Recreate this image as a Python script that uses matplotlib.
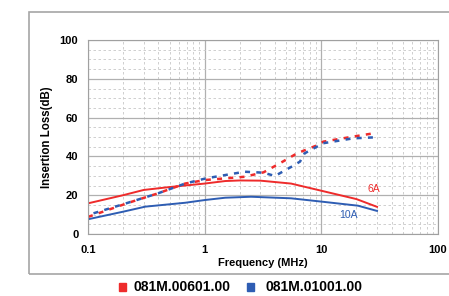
import matplotlib
matplotlib.use("Agg")
import matplotlib.pyplot as plt
from matplotlib.patches import Rectangle
from matplotlib.ticker import LogLocator, MultipleLocator, FixedLocator

plt.rcParams["font.family"] = ["Liberation Sans", "DejaVu Sans"]

RED = "#ee2b2b"
BLUE = "#2e5db3"

# 6A part, solid = one mode, dashed = other
f_6a = [0.1, 0.2, 0.3, 0.5, 1.0, 1.5, 2.0, 3.0, 5.5, 10, 20, 30]
il_6a = [15.8, 20.0, 22.7, 24.2, 26.0, 27.3, 27.6, 27.5, 26.0, 22.3, 18.0, 14.0]
f_6a_d = [0.1, 0.22, 0.4, 0.68, 1.0, 2.2, 3.2, 4.4, 6.2, 9.1, 10.4, 18.7, 28]
il_6a_d = [8.8, 16.0, 21.0, 26.0, 27.8, 29.5, 31.8, 36.4, 41.6, 45.6, 47.6, 50.2, 51.9]

# 10A part
f_10a = [0.1, 0.2, 0.31, 0.68, 1.0, 1.5, 2.5, 5.5, 10, 20.6, 30]
il_10a = [7.6, 11.5, 14.1, 16.1, 17.5, 18.7, 19.2, 18.4, 16.7, 14.6, 11.9]
f_10a_d = [0.1, 0.22, 0.4, 0.68, 1.03, 2.2, 3.2, 4.0, 5.56, 6.56, 7.2, 10.4, 18.7, 28]
il_10a_d = [9.8, 16.1, 21.0, 26.0, 28.7, 32.1, 31.6, 29.9, 34.7, 37.3, 41.6, 46.8, 49.3, 49.8]

fig = plt.figure(figsize=(4.49, 2.96), dpi=100)
fig.patches.append(Rectangle((29 / 449, 22 / 296), 1.0, 262 / 296, transform=fig.transFigure,
                             fill=False, edgecolor="#a6a6a6", linewidth=1.2, clip_on=False))
ax = fig.add_axes([88 / 449, 62 / 296, 350 / 449, 194 / 296])

ax.plot(f_6a, il_6a, color=RED, lw=1.4)
ax.plot(f_6a_d, il_6a_d, color=RED, lw=1.8, ls=(0, (2, 2.5)))
ax.plot(f_10a, il_10a, color=BLUE, lw=1.4)
ax.plot(f_10a_d, il_10a_d, color=BLUE, lw=1.8, ls=(2.2, (2, 2.5)))

ax.set_xscale("log")
ax.set_xlim(0.1, 100)
ax.set_ylim(0, 100)
ax.xaxis.set_major_locator(FixedLocator([0.1, 1, 10, 100]))
ax.set_xticklabels(["0.1", "1", "10", "100"])
ax.yaxis.set_major_locator(MultipleLocator(20))
ax.minorticks_on()
ax.yaxis.set_minor_locator(MultipleLocator(5))
ax.xaxis.set_minor_locator(LogLocator(base=10, subs=range(2, 10)))
ax.xaxis.set_minor_formatter(plt.NullFormatter())

ax.grid(which="major", color="#b0b0b0", lw=0.9, ls="-")
ax.grid(which="minor", color="#c8c8c8", lw=0.6, ls=(0, (3, 3)))
ax.set_axisbelow(True)
ax.tick_params(which="both", length=0)
ax.tick_params(axis="x", pad=8)
ax.tick_params(axis="y", pad=7)
for lab in ax.get_xticklabels() + ax.get_yticklabels():
    lab.set_fontweight("bold")
    lab.set_fontsize(8)
for s in ax.spines.values():
    s.set_color("#a0a0a0")

ax.set_xlabel("Frequency (MHz)", fontsize=8, fontweight="bold", labelpad=2)
ax.set_ylabel("Insertion Loss(dB)", fontsize=8.3, fontweight="bold", labelpad=5)

ax.text(28, 21.5, "6A", color=RED, fontsize=7.5, ha="center")
ax.text(17, 8.5, "10A", color=BLUE, fontsize=7.5, ha="center")

fig.patches.append(Rectangle((119 / 449, 5 / 296), 7 / 449, 8 / 296, transform=fig.transFigure,
                             color=RED))
fig.text(133 / 449, 9 / 296, "081M.00601.00", fontsize=10, fontweight="bold", va="center")
fig.patches.append(Rectangle((247 / 449, 5 / 296), 7 / 449, 8 / 296, transform=fig.transFigure,
                             color=BLUE))
fig.text(266 / 449, 9 / 296, "081M.01001.00", fontsize=10, fontweight="bold", va="center")

fig.savefig("out.png", dpi=100)
